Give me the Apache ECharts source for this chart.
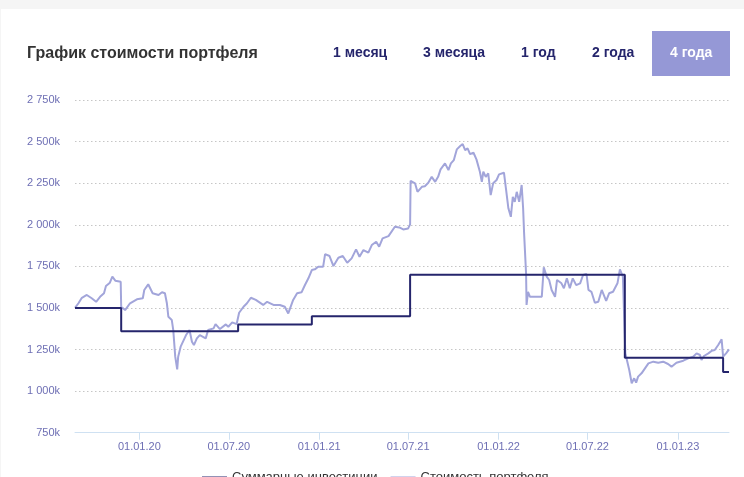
<!DOCTYPE html>
<html>
<head>
<meta charset="utf-8">
<script src="https://cdn.jsdelivr.net/npm/echarts@6/dist/echarts.min.js"></script>
<style>
html,body{margin:0;padding:0;background:#f5f5f5;}
#chart{width:744px;height:477px;}
</style>
</head>
<body>
<div id="chart"></div>
<script>
// ---- data (values in thousands of rubles) ----
const chartTitle = 'График стоимости портфеля';
const periodButtons = ['1 месяц', '3 месяца', '1 год', '2 года', '4 года'];
const seriesNames = ['Суммарные инвестиции', 'Стоимость портфеля'];

const xTickDates = ['2020-01-01', '2020-07-01', '2021-01-01', '2021-07-01', '2022-01-01', '2022-07-01', '2023-01-01'];
const xRange = ['2019-08-23', '2023-04-15'];
const yTicks = [750, 1000, 1250, 1500, 1750, 2000, 2250, 2500, 2750];

const investDates = ['2019-08-23', '2019-11-25', '2020-07-20', '2020-12-17', '2021-07-05', '2022-09-15', '2023-04-03', '2023-04-15'];
const investValues = [1500, 1360, 1400, 1450, 1700, 1200, 1115, 1115];

const portfolioDates = [
 '2019-08-23','2019-08-30','2019-09-06','2019-09-16','2019-09-26','2019-10-05','2019-10-13','2019-10-21','2019-10-25','2019-11-02',
 '2019-11-07','2019-11-13','2019-11-24','2019-11-25','2019-12-03','2019-12-13','2019-12-27','2020-01-08','2020-01-11','2020-01-19',
 '2020-01-28','2020-02-09','2020-02-16','2020-02-22','2020-02-26','2020-02-29','2020-03-07','2020-03-10','2020-03-14','2020-03-18',
 '2020-03-20','2020-03-25','2020-03-29','2020-04-05','2020-04-12','2020-04-17','2020-04-21','2020-04-27','2020-05-03','2020-05-15',
 '2020-05-20','2020-05-31','2020-06-04','2020-06-13','2020-06-25','2020-06-30','2020-07-08','2020-07-17','2020-07-22','2020-07-31',
 '2020-08-07','2020-08-15','2020-08-25','2020-09-09','2020-09-17','2020-09-30','2020-10-13','2020-10-23','2020-10-30','2020-11-09',
 '2020-11-17','2020-11-26','2020-12-03','2020-12-10','2020-12-17','2020-12-23','2020-12-30','2021-01-09','2021-01-13','2021-01-22',
 '2021-01-30','2021-02-09','2021-02-18','2021-02-27','2021-03-08','2021-03-17','2021-03-24','2021-04-01','2021-04-11','2021-04-18',
 '2021-04-27','2021-05-03','2021-05-10','2021-05-22','2021-06-04','2021-06-13','2021-06-21','2021-07-01','2021-07-05','2021-07-06',
 '2021-07-15','2021-07-20','2021-07-29','2021-08-04','2021-08-11','2021-08-18','2021-08-25','2021-08-31','2021-09-05','2021-09-14',
 '2021-09-21','2021-09-26','2021-10-02','2021-10-08','2021-10-15','2021-10-20','2021-10-25','2021-10-30','2021-11-04','2021-11-11',
 '2021-11-17','2021-11-24','2021-11-28','2021-12-01','2021-12-06','2021-12-11','2021-12-16','2021-12-21','2021-12-28','2022-01-02',
 '2022-01-12','2022-01-16','2022-01-21','2022-01-26','2022-01-30','2022-02-03','2022-02-07','2022-02-12','2022-02-17','2022-02-20',
 '2022-02-22','2022-02-26','2022-02-27','2022-03-02','2022-03-06','2022-03-30','2022-04-03','2022-04-09','2022-04-14','2022-04-19',
 '2022-04-26','2022-04-30','2022-05-09','2022-05-14','2022-05-20','2022-05-26','2022-06-01','2022-06-08','2022-06-16','2022-06-22',
 '2022-06-29','2022-07-03','2022-07-09','2022-07-16','2022-07-23','2022-07-30','2022-08-08','2022-08-14','2022-08-22','2022-08-31',
 '2022-09-05','2022-09-11','2022-09-13','2022-09-16','2022-09-20','2022-09-24','2022-09-29','2022-10-04','2022-10-08','2022-10-12',
 '2022-10-19','2022-10-26','2022-11-02','2022-11-12','2022-11-22','2022-12-02','2022-12-12','2022-12-19','2022-12-29','2023-01-12',
 '2023-01-22','2023-02-01','2023-02-08','2023-02-15','2023-02-18','2023-02-23','2023-03-04','2023-03-11','2023-03-17','2023-03-24',
 '2023-03-31','2023-04-03','2023-04-09','2023-04-15'
];
const portfolioValues = [
 1500,1528,1561,1578,1558,1537,1567,1588,1632,1652,
 1688,1664,1658,1507,1487,1528,1552,1558,1608,1642,
 1588,1578,1594,1588,1528,1447,1427,1367,1207,1131,
 1207,1267,1257,1337,1367,1297,1277,1317,1337,1317,
 1367,1377,1403,1373,1401,1387,1413,1403,1471,1507,
 1528,1561,1548,1518,1537,1518,1518,1507,1467,1548,
 1588,1594,1638,1678,1728,1732,1748,1748,1824,1812,
 1752,1802,1812,1772,1798,1852,1808,1848,1832,1878,
 1898,1868,1918,1932,1988,1984,1972,1978,2002,2264,
 2249,2198,2228,2232,2252,2288,2258,2288,2333,2369,
 2329,2369,2389,2453,2473,2485,2449,2459,2425,2433,
 2393,2319,2258,2319,2288,2309,2178,2249,2269,2303,
 2313,2219,2099,2048,2168,2138,2198,2138,2239,2099,
 1948,1708,1518,1597,1567,1567,1744,1688,1668,1608,
 1567,1668,1648,1618,1678,1618,1678,1637,1648,1698,
 1704,1608,1597,1531,1537,1608,1543,1588,1597,1648,
 1732,1688,1698,1227,1217,1127,1047,1077,1051,1087,
 1107,1137,1167,1177,1171,1177,1163,1147,1171,1183,
 1197,1207,1227,1217,1187,1211,1227,1243,1247,1277,
 1311,1207,1227,1251
];

// ---- helpers ----
function ts(s){ const p = s.split('-').map(Number); return new Date(p[0], p[1]-1, p[2]).getTime(); }
function pad(n){ return (n<10?'0':'')+n; }
function fmtDate(v){ const d = new Date(v); return pad(d.getDate())+'.'+pad(d.getMonth()+1)+'.'+String(d.getFullYear()).slice(2); }
function fmtK(v){ return (v>=1000 ? Math.floor(v/1000)+' '+String(v%1000).padStart(3,'0') : String(v)) + 'k'; }

const tickValues = xTickDates.map(ts);
const investData = investDates.map((d,i)=>[ts(d), investValues[i]]);
const portfolioData = portfolioDates.map((d,i)=>[ts(d), portfolioValues[i]]);

const navy = '#25256c';
const lav = '#a2a5da';
const btnX = [333, 423, 521, 592, 670];

const chart = echarts.init(document.getElementById('chart'), null, {renderer:'canvas'});
chart.setOption({
  backgroundColor: '#ffffff',
  animation: false,
  textStyle: { fontFamily: '"Liberation Sans", Arial, sans-serif' },
  title: {
    text: chartTitle, left: 27, top: 46, padding: 0,
    textStyle: { fontSize: 16, fontWeight: 'bold', color: '#333333', fontFamily: '"Liberation Sans", Arial, sans-serif' }
  },
  graphic: [
    { type: 'rect', shape: { x: 0, y: 0, width: 744, height: 9 }, style: { fill: '#f5f5f5' }, silent: true },
    { type: 'rect', shape: { x: 0, y: 0, width: 1, height: 477 }, style: { fill: '#f5f5f5' }, silent: true },
    { type: 'rect', shape: { x: 652, y: 31, width: 78, height: 45 }, style: { fill: '#9598d6' }, silent: true }
  ].concat(periodButtons.map((t,i)=>({
    type: 'text', x: btnX[i], y: 53.5,
    style: { text: t, fill: i===4 ? '#ffffff' : navy, font: 'bold 14px "Liberation Sans", Arial, sans-serif', textVerticalAlign: 'middle' },
    silent: true
  }))),
  legend: {
    left: 202, top: 471, padding: 0, itemGap: 13, itemWidth: 25, itemHeight: 14,
    icon: 'path://M0,12 L25,12 L25,14 L0,14 Z',
    data: seriesNames,
    textStyle: { fontSize: 13, color: '#333333' }
  },
  grid: { left: 75, right: 15, top: 100, bottom: 44.3 },
  xAxis: {
    type: 'value',
    min: ts(xRange[0]), max: ts(xRange[1]),
    axisLine: { lineStyle: { color: '#cfe1f2', width: 1 } },
    axisTick: { show: true, customValues: tickValues, length: 7, lineStyle: { color: '#cfe1f2' } },
    axisLabel: { customValues: tickValues, formatter: fmtDate, color: '#6e6fb4', fontSize: 11, margin: 9 },
    splitLine: { show: false }
  },
  yAxis: {
    type: 'value', min: yTicks[0], max: yTicks[yTicks.length-1], interval: 250,
    axisLine: { show: false }, axisTick: { show: false },
    axisLabel: { formatter: fmtK, color: '#6e6fb4', fontSize: 11, margin: 15 },
    splitLine: { show: true, lineStyle: { type: [1.5, 2.5], color: '#c6c6c6', width: 1 } }
  },
  series: [
    { name: seriesNames[0], type: 'line', step: 'end', data: investData, showSymbol: false, symbol: 'none', z: 3,
      lineStyle: { color: navy, width: 2 }, itemStyle: { color: navy } },
    { name: seriesNames[1], type: 'line', data: portfolioData, showSymbol: false, symbol: 'none', z: 2,
      lineStyle: { color: lav, width: 2 }, itemStyle: { color: lav } }
  ]
});
</script>
</body>
</html>
